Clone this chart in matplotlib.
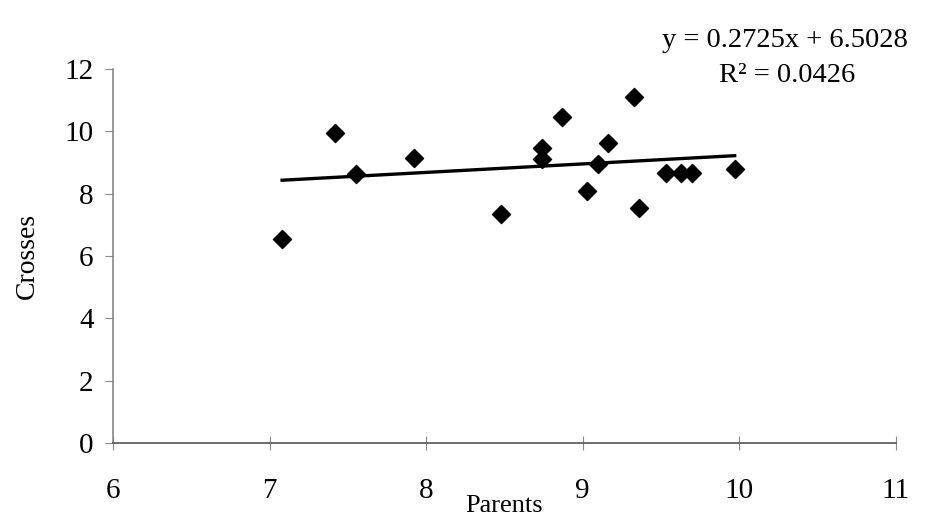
import numpy as np
import matplotlib.pyplot as plt

plt.rcParams['font.family'] = ['Liberation Serif', 'DejaVu Serif']

# Parents vs crosses
parents = [7.08, 7.42, 7.55, 7.92, 8.48, 8.74, 8.74, 8.87, 9.03, 9.10,
           9.16, 9.33, 9.36, 9.53, 9.63, 9.70, 9.97]
crosses = [6.54, 9.95, 8.63, 9.14, 7.35, 9.46, 9.11, 10.46, 8.09, 8.95,
           9.63, 11.10, 7.53, 8.67, 8.67, 8.67, 8.79]

slope = 0.2725
intercept = 6.5028
r2 = 0.0426

fig = plt.figure(figsize=(9.3, 5.19), dpi=100)
ax = fig.add_axes([0.1215, 0.1464, 0.8419, 0.7206])

ax.scatter(parents, crosses, marker='D', s=85, color='black', zorder=3)

xfit = np.array([min(parents), max(parents)])
ax.plot(xfit, slope * xfit + intercept, color='black', lw=2.4, zorder=2)

ax.set_xlim(6, 11)
ax.set_ylim(0, 12)
ax.set_xticks([6, 7, 8, 9, 10, 11])
ax.set_yticks([0, 2, 4, 6, 8, 10, 12])

for s in ['top', 'right']:
    ax.spines[s].set_visible(False)
ax.spines['left'].set_color('#888888')
ax.spines['bottom'].set_color('#555555')
ax.spines['left'].set_linewidth(1.2)
ax.spines['bottom'].set_linewidth(1.2)

ax.tick_params(axis='y', direction='out', length=6, color='#888888',
               labelsize=21, pad=8)
ax.tick_params(axis='x', direction='inout', length=10, color='#888888',
               labelsize=21, pad=20)

ax.set_xlabel('Parents', fontsize=19, labelpad=0)
ax.xaxis.set_label_coords(0.5, -0.14)
ax.set_ylabel('Crosses', fontsize=20, labelpad=18)

fig.text(0.844, 0.922, 'y = 0.2725x + 6.5028', ha='center', va='center',
         fontsize=20.5)
fig.text(0.846, 0.855, f'R² = {r2:.4f}', ha='center', va='center',
         fontsize=20.5)

fig.savefig('out.png', dpi=100)
